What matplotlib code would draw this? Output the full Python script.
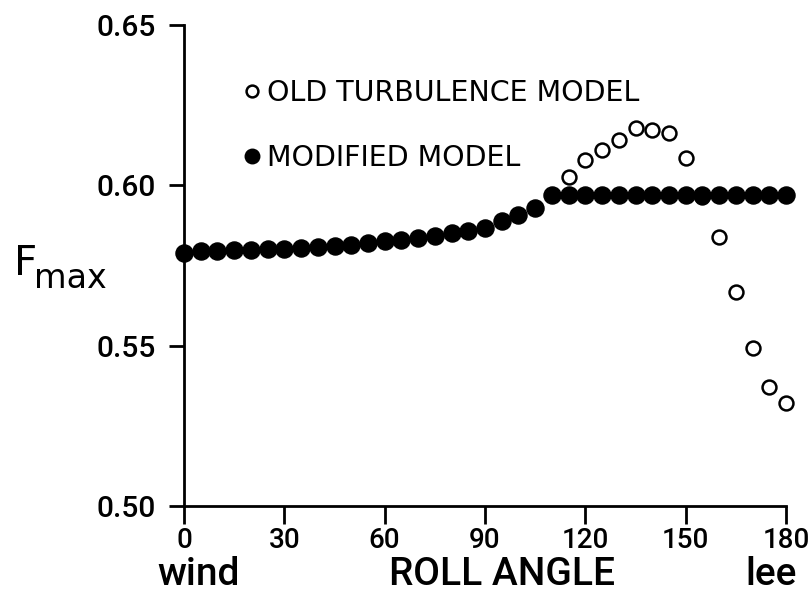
import matplotlib
matplotlib.use("Agg")
import matplotlib.pyplot as plt

# roll angle (deg) and F_max
angle = [0, 5, 10, 15, 20, 25, 30, 35, 40, 45, 50, 55, 60, 65, 70, 75, 80, 85, 90,
         95, 100, 105, 110, 115, 120, 125, 130, 135, 140, 145, 150, 155, 160, 165,
         170, 175, 180]
f_modified = [0.5790, 0.5794, 0.5796, 0.5797, 0.5798, 0.5800, 0.5802, 0.5805, 0.5808,
              0.5811, 0.5815, 0.5820, 0.5825, 0.5830, 0.5836, 0.5842, 0.5850, 0.5858,
              0.5868, 0.5890, 0.5908, 0.5930, 0.5970, 0.5970, 0.5970, 0.5970, 0.5970,
              0.5970, 0.5970, 0.5970, 0.5970, 0.5970, 0.5970, 0.5970, 0.5970, 0.5970,
              0.5970]

angle_old = [115, 120, 125, 130, 135, 140, 145, 150, 155, 160, 165, 170, 175, 180]
f_old = [0.6027, 0.6079, 0.6110, 0.6140, 0.6179, 0.6172, 0.6164, 0.6086, 0.5965,
         0.5839, 0.5668, 0.5492, 0.5370, 0.5320]

xticks = [0, 30, 60, 90, 120, 150, 180]
yticks = [0.50, 0.55, 0.60, 0.65]

W, H = 810, 616
fig = plt.figure(figsize=(W / 100, H / 100), dpi=100)
ax = fig.add_axes([184 / W, 1 - 506 / H, (786 - 184) / W, (506 - 25) / H])

lab_font = ["Roboto", "DejaVu Sans"]

ax.plot(angle_old, f_old, 'o', ms=10, mfc='white', mec='black', mew=1.8,
        clip_on=False, zorder=2, label='OLD TURBULENCE MODEL')
ax.plot(angle, f_modified, 'o', ms=12.3, color='black', clip_on=False, zorder=3,
        label='MODIFIED MODEL')

ax.set_xlim(0, 180)
ax.set_ylim(0.50, 0.65)
ax.set_xticks(xticks)
ax.set_yticks(yticks)
ax.set_xticklabels([str(t) for t in xticks], family=lab_font, fontsize=20, weight='medium')
ax.set_yticklabels(['%.2f' % t for t in yticks], family=lab_font, fontsize=21.5, weight='medium')

for s in ['top', 'right']:
    ax.spines[s].set_visible(False)
for s in ['left', 'bottom']:
    ax.spines[s].set_linewidth(2)
ax.tick_params(axis='y', direction='out', length=11, width=2, pad=9)
ax.tick_params(axis='x', direction='out', length=13, width=2, pad=2)

leg = ax.legend(loc='upper left', bbox_to_anchor=(244 / W, 1 - 79 / H),
                bbox_transform=fig.transFigure, frameon=False, fontsize=20.5,
                handlelength=0.55, handletextpad=0.27, labelspacing=1.3,
                borderpad=0, borderaxespad=0, markerscale=0.85)

# axis labels
fig.text(199 / W, 1 - 585 / H, 'wind', family=lab_font, fontsize=28, weight='medium',
         ha='center', va='baseline')
fig.text(502 / W, 1 - 585 / H, 'ROLL ANGLE', family=lab_font, fontsize=28, weight='medium',
         ha='center', va='baseline')
fig.text(771 / W, 1 - 585 / H, 'lee', family=lab_font, fontsize=28, weight='medium',
         ha='center', va='baseline')
fig.text(14 / W, 1 - 275 / H, 'F', fontsize=29, ha='left', va='baseline')
fig.text(34 / W, 1 - 288 / H, 'max', fontsize=24, ha='left', va='baseline')

fig.savefig('out.png', dpi=100)
